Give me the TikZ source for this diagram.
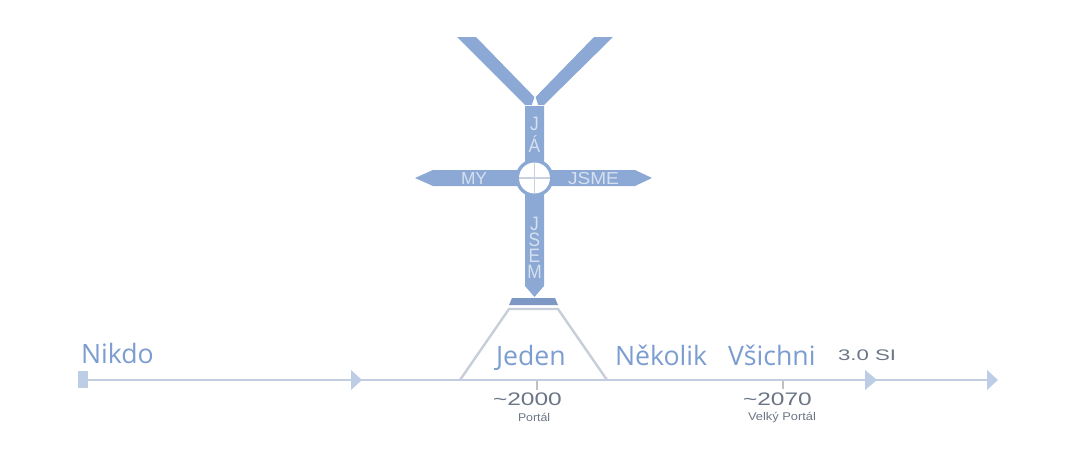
\documentclass[tikz,border=0pt]{standalone}
\usepackage{fontspec}
\usepackage{graphicx}
\setmainfont{Liberation Sans}
\newfontfamily\bigfont{Open Sans}
\definecolor{barblue}{HTML}{8CA8D4}
\definecolor{platedark}{HTML}{7D98C5}
\definecolor{labelblue}{HTML}{7B9DD0}
\definecolor{linecol}{HTML}{C2CEE0}
\definecolor{arrowcol}{HTML}{BDCDE5}
\definecolor{trapcol}{HTML}{C6CEDA}
\definecolor{bartext}{HTML}{D6E1F0}
\definecolor{graytext}{HTML}{6B7585}
\definecolor{plusgray}{HTML}{C9D1DE}
\newcommand{\tallletter}[1]{\scalebox{1}[1.12]{#1}}
\tikzset{
  txt/.style={inner sep=0pt, outer sep=0pt, anchor=base west},
  barlbl/.style={inner sep=0pt, outer sep=0pt, anchor=base, text=bartext, font=\fontsize{13pt}{14pt}\selectfont},
  biglbl/.style={txt, text=labelblue, font=\bigfont\fontsize{20pt}{24pt}\selectfont},
  yearlbl/.style={txt, text=graytext, font=\fontsize{13.6pt}{16pt}\selectfont},
  smalllbl/.style={txt, text=graytext, font=\fontsize{8.4pt}{10pt}\selectfont},
  tipmark/.style={fill=arrowcol, draw=none},
}
\begin{document}
\begin{tikzpicture}[x=0.75pt,y=-0.75pt]
\path[use as bounding box] (0,0) rectangle (1083,464);

% Y arms
\fill[barblue] (457,37) -- (476,37) -- (534.4,97) -- (531.8,105) -- (525,105) -- cycle;
\fill[barblue] (613,37) -- (594,37) -- (535.6,97) -- (538.2,105) -- (544,105) -- cycle;
% vertical bar
\fill[barblue] (525,106) -- (544,106) -- (544,286) -- (534.5,297) -- (525,286) -- cycle;
% horizontal bar
\fill[barblue] (433,170) -- (635,170) -- (652,178) -- (635,186) -- (433,186) -- (415,178) -- cycle;
% centre ring
\coordinate (c) at (534.5,178);
\fill[barblue] (c) circle[radius=14.25pt];
\fill[white] (c) circle[radius=11.6pt];
\draw[plusgray, line width=1.4pt] (519,178) -- (550,178);
\draw[plusgray, line width=1.4pt] (534.5,163) -- (534.5,193);

% base plate
\fill[platedark] (512,298) -- (555,298) -- (558,305) -- (509,305) -- cycle;
% trapezoid (portal)
\draw[trapcol, line width=1.8pt, line join=round] (460,380) -- (509,309) -- (558,309) -- (607,380);

% timeline
\coordinate (t0) at (88,380);
\coordinate (t1) at (995,380);
\draw[linecol, line width=1.6pt] (t0) -- (t1);
\fill[tipmark] (78,371) rectangle (88,388);
\fill[tipmark] (351,370) -- (362,380) -- (351,390) -- cycle;
\fill[tipmark] (865,370) -- (877,380) -- (865,390) -- cycle;
\fill[tipmark] (987,370) -- (998,380) -- (987,390) -- cycle;
% ticks
\draw[graytext!45, line width=1pt] (537,381) -- (537,390);
\draw[graytext!45, line width=1pt] (783,381) -- (783,389);

% bar labels
\node[barlbl] (my) at (474,184) {MY};
\node[barlbl] (jsme) at (593.5,184) {\scalebox{1.1}[1]{JSME}};
\node[barlbl, align=center, font=\fontsize{13pt}{16.5pt}\selectfont] (ja) at (534.5,152) {\tallletter{J}\\\tallletter{Á}};
\node[barlbl, align=center, font=\fontsize{13pt}{12.1pt}\selectfont] (jsem) at (534.5,278.5) {\tallletter{J}\\\tallletter{S}\\\tallletter{E}\\\tallletter{M}};

% big labels
\node[biglbl] (nikdo) at (81,363) {Nikdo};
\node[biglbl] (jeden) at (496,365) {Jeden};
\node[biglbl] (nekolik) at (615,365) {Několik};
\node[biglbl] (vsichni) at (728,365) {Všichni};
\node[txt, text=graytext, font=\fontsize{11.5pt}{14pt}\selectfont] (si) at (838,360) {\scalebox{1.45}[1]{3.0 SI}};

% years
\node[yearlbl] (y2000) at (493,405) {\scalebox{1.35}[1]{\textasciitilde 2000}};
\node[smalllbl] (p1) at (518,421) {\scalebox{1.1}[1]{Portál}};
\node[yearlbl] (y2070) at (743,405) {\scalebox{1.35}[1]{\textasciitilde 2070}};
\node[smalllbl] (p2) at (748,420) {\scalebox{1.15}[1]{Velký Portál}};
\end{tikzpicture}
\end{document}
